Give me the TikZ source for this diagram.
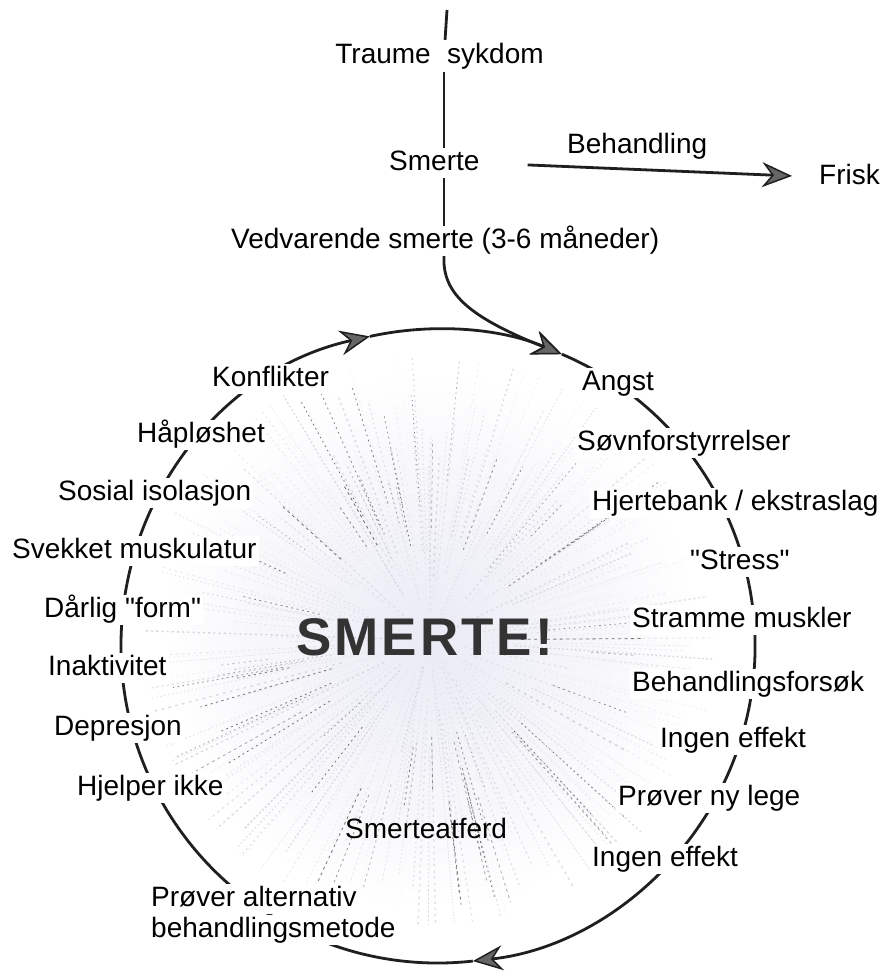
\documentclass[tikz,border=0pt]{standalone}
\usepackage{fontspec}
\setmainfont{Liberation Sans}
\usetikzlibrary{arrows.meta}
\definecolor{haze}{RGB}{234,234,245}
\definecolor{lav}{RGB}{150,150,175}
\begin{document}
\begin{tikzpicture}[x=1pt,y=-1pt,
  lab/.style={font=\fontsize{28}{32}\selectfont, inner sep=2pt, text height=20pt, text depth=6pt, anchor=base west, fill=white},
  labn/.style={lab, fill=none},
  ln/.style={line width=2.8pt, black!88},
  tip/.style={-{Stealth[length=30pt,width=25pt,inset=10pt,fill=black!60,line width=1.5pt]}},
  ray/.style={line cap=butt}
]
\useasboundingbox (0,0) rectangle (886,977);
\fill[white] (0,0) rectangle (886,977);

% centres
\coordinate (cc) at (438,646);
\coordinate (rc) at (430,640);

% starburst
\shade[inner color=haze, outer color=white] (rc) circle (270);
\pgfmathsetseed{11}
\foreach \i in {0,...,219}{
  \pgfmathsetmacro\ang{\i*1.636+rnd*2}
  \pgfmathsetmacro\ra{25+rnd*90}
  \pgfmathsetmacro\rb{min(\ra+80+rnd*200,285)}
  \pgfmathsetmacro\len{\rb-\ra}
  \pgfmathtruncatemacro\gr{12+rnd*30}
  \pgfmathsetmacro\lw{0.5+rnd*1.1}
  \pgfmathsetmacro\on{0.8+rnd*2}
  \pgfmathsetmacro\off{2+rnd*2.5}
  \draw[ray, lav!\gr!white, line width=\lw pt, dash pattern=on \on pt off \off pt] (rc) ++(\ang:\ra) -- ++(\ang:\len);
}
\pgfmathsetseed{5}
\foreach \i in {0,...,59}{
  \pgfmathsetmacro\ang{rnd*360}
  \pgfmathsetmacro\ra{90+rnd*80}
  \pgfmathsetmacro\rb{min(\ra+40+rnd*120,280)}
  \pgfmathsetmacro\len{\rb-\ra}
  \pgfmathtruncatemacro\gr{25+rnd*35}
  \pgfmathsetmacro\on{1+rnd*2}
  \draw[ray, black!\gr, line width=0.8pt, dash pattern=on \on pt off 3.5pt] (rc) ++(\ang:\ra) -- ++(\ang:\len);
}

% cycle circle
\path (cc) ++(-67:317) coordinate (tipA);
\path (cc) ++(83.7:317) coordinate (tipB);
\path (cc) ++(257.6:317) coordinate (tipC);
\draw[ln,tip] (tipA) arc[start angle=-67, end angle=83.7, radius=317];
\draw[ln,tip] (tipB) arc[start angle=83.7, end angle=257.6, radius=317];
\draw[ln,tip] (tipC) arc[start angle=257.6, end angle=293, radius=317];

% top chain
\coordinate (top) at (447,10);
\node[lab, anchor=base east] (traume) at (433,63) {Traume};
\node[lab] (sykdom) at (445,63) {sykdom};
\node[draw=none, inner sep=0pt, minimum width=2pt, minimum height=32pt] (ts) at (444,56) {};
\node[lab] (smerte) at (387,170) {Smerte};
\node[lab] (ved) at (229,248) {Vedvarende smerte (3-6 måneder)};
\node[lab] (behandling) at (565,153) {Behandling};
\node[lab] (frisk) at (817,184) {Frisk};

\draw[ln] (top) -- (ts);
\draw[ln] (ts.south) -- (ts.south |- smerte.north);
\draw[ln] (ts.south |- smerte.south) -- (ts.south |- ved.north);
\draw[ln,tip] (ts.south |- ved.south) .. controls (442,295) and (472,318) .. (tipA);
\draw[ln,tip,shorten <=46pt,shorten >=25pt] (smerte.east) -- (frisk.west);

% left side labels
\node[lab] (konflikter) at (210,386) {Konflikter};
\node[lab] (haploshet) at (135,442) {Håpløshet};
\node[lab] (sosial) at (56,500) {Sosial isolasjon};
\node[lab] (svekket) at (10,558) {Svekket muskulatur};
\node[lab] (darlig) at (42,617) {Dårlig \textquotedbl form\textquotedbl};
\node[lab] (inaktiv) at (46,675) {Inaktivitet};
\node[lab] (depresjon) at (52,735) {Depresjon};
\node[lab] (hjelper) at (75,795) {Hjelper ikke};
\node[lab] (alt1) at (149,906) {Prøver alternativ};
\node[lab] (alt2) at (149,937) {behandlingsmetode};

% right side labels
\node[lab] (angst) at (580,390) {Angst};
\node[lab] (sovn) at (575,450) {Søvnforstyrrelser};
\node[lab] (hjerte) at (590,510) {Hjertebank / ekstraslag};
\node[lab] (stress) at (688,569) {\textquotedbl Stress\textquotedbl};
\node[lab] (stramme) at (630,627) {Stramme muskler};
\node[lab] (behforsok) at (630,691) {Behandlingsforsøk};
\node[lab] (ingen1) at (658,747) {Ingen effekt};
\node[lab] (nylege) at (616,805) {Prøver ny lege};
\node[lab] (ingen2) at (590,866) {Ingen effekt};
\node[labn] (atferd) at (343,838) {Smerteatferd};

% centre
\node[anchor=base west, inner sep=0pt, text=black!80, font=\fontsize{53}{60}\selectfont\bfseries] (smertebig) at (296,655) {S\kern3pt M\kern3pt E\kern3pt R\kern3pt T\kern3pt E\kern3pt !};
\end{tikzpicture}
\end{document}
